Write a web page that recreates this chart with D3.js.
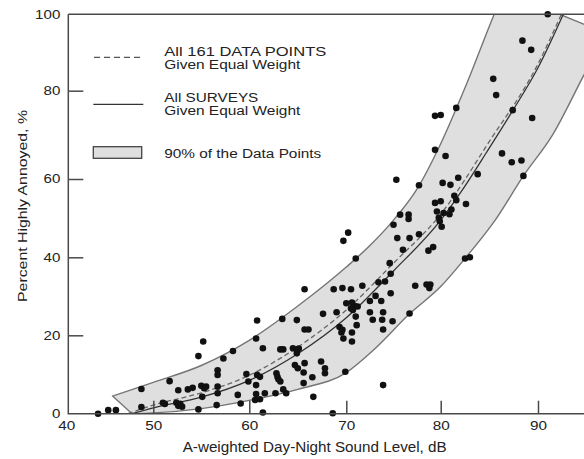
<!DOCTYPE html>
<html>
<head>
<meta charset="utf-8">
<script src="https://cdn.jsdelivr.net/npm/d3@7"></script>
<style>
  html, body { margin: 0; padding: 0; background: #ffffff; }
  text { font-family: "Liberation Sans", Arial, Helvetica, sans-serif; fill: #222; }
</style>
</head>
<body>
<svg id="chart" width="584" height="459"></svg>
<script>
// Tick values for both axes
const xTicks = [40, 50, 60, 70, 80, 90];
const yTicks = [0, 20, 40, 60, 80, 100];

// Survey data points: day-night level (dB) and percent highly annoyed
const ldn = [
  43.5, 44.7, 45.6, 48.6, 48.6, 51.0, 51.2, 51.7, 52.4, 52.6, 52.8, 53.0, 52.6, 53.6, 54.1, 54.7,
  55.2, 55.0, 55.3, 55.5, 55.1, 54.7, 56.7, 56.7, 56.7, 56.7, 56.6, 57.3, 58.3, 58.8, 59.1, 59.7,
  59.9, 60.8, 60.7, 60.7, 60.8, 61.1, 60.7, 61.1, 61.6, 60.6, 61.4, 61.4, 62.7, 63.2, 63.5, 63.4,
  63.5, 63.8, 64.5, 64.9, 65.1, 64.9, 64.9, 64.7, 65.0, 62.8, 62.9, 63.0, 63.2, 65.7, 65.6, 65.6,
  66.5, 67.4, 67.8, 67.8, 66.6, 69.9, 68.6, 65.7, 66.1, 65.7, 67.6, 69.0, 69.3, 69.6, 69.5, 69.7,
  68.7, 69.6, 69.7, 70.2, 70.5, 71.7, 71.0, 70.0, 70.6, 70.9, 71.2, 70.5, 70.7, 71.0, 71.1, 70.6,
  70.6, 72.5, 73.1, 73.7, 72.5, 72.8, 73.9, 73.8, 73.9, 73.4, 74.1, 74.6, 74.7, 74.7, 74.9, 73.9,
  75.0, 75.3, 75.4, 76.7, 77.7, 76.0, 75.7, 76.6, 76.6, 77.7, 76.7, 77.3, 78.5, 78.9, 78.8, 78.7,
  79.2, 79.4, 80.0, 79.6, 80.3, 79.8, 79.9, 80.1, 79.4, 80.5, 79.4, 80.0, 80.2, 81.0, 81.1, 80.9,
  81.4, 81.6, 82.6, 81.8, 83.8, 81.6, 82.5, 83.0, 85.4, 85.7, 86.3, 87.3, 88.3, 88.5, 87.4, 89.4,
  88.4, 89.3, 91.0
];
const pctHA = [
  0.0, 0.9, 0.9, 6.3, 1.7, 2.8, 2.5, 8.3, 2.8, 2.0, 2.5, 1.8, 6.0, 6.2, 6.6, 14.7,
  18.4, 7.1, 6.5, 6.9, 4.3, 1.1, 11.1, 9.9, 6.9, 5.2, 2.2, 14.1, 16.0, 4.8, 2.6, 10.1,
  8.2, 23.8, 19.2, 7.3, 9.9, 9.4, 5.0, 3.7, 5.2, 3.5, 16.7, 0.3, 5.2, 16.4, 16.4, 24.2,
  6.2, 5.2, 16.7, 16.3, 16.6, 15.4, 23.9, 12.4, 11.6, 10.3, 9.4, 8.8, 8.2, 12.9, 10.5, 7.8,
  9.3, 13.3, 11.6, 10.3, 4.3, 10.7, 0.1, 21.5, 21.5, 31.8, 25.5, 25.9, 22.1, 21.4, 20.7, 19.2,
  31.8, 32.1, 44.2, 46.3, 31.8, 32.7, 39.7, 28.2, 28.4, 27.5, 27.4, 26.9, 26.5, 24.8, 22.6, 20.7,
  18.4, 28.8, 30.1, 28.8, 25.9, 24.0, 25.9, 24.0, 21.5, 33.6, 33.8, 38.5, 35.8, 30.8, 23.6, 7.3,
  48.3, 59.8, 44.9, 44.9, 45.9, 41.9, 50.9, 50.9, 49.8, 58.4, 25.6, 32.7, 33.0, 33.0, 32.1, 41.7,
  42.6, 53.9, 54.3, 51.7, 51.3, 50.1, 49.2, 47.8, 66.6, 65.2, 74.3, 74.5, 59.0, 58.5, 52.2, 51.0,
  55.7, 54.6, 53.6, 60.3, 61.1, 76.1, 39.7, 40.0, 83.1, 79.0, 65.8, 63.8, 64.2, 60.7, 75.6, 73.8,
  93.1, 90.7, 100.0
];

// Fitted curves [dB, %]
const surveysCurve = [
  [47.5, 0], [50, 1.5], [55, 4.2], [60, 8.5], [65, 15.3], [70, 24.5], [75, 36.5],
  [80, 49.5], [82.3, 57.5], [84.7, 66], [87.4, 75.5], [90, 86], [92.6, 100]
];
const allPointsCurve = [
  [47.0, 0], [50, 2.2], [55, 5.3], [60, 9.8], [65, 17], [70, 26.5], [75, 38.5],
  [80, 51], [85, 68.5], [90, 87], [92.4, 100]
];

// 90% band boundaries [dB, %]
const bandUpper = [
  [45.2, 4.5], [50, 8], [55, 12.3], [60, 18.7], [65, 27.5], [70, 37.5], [72.5, 43],
  [75, 49.5], [77.5, 57.5], [80, 68], [82.7, 82], [85.5, 100], [86.5, 106]
];
const bandLower = [
  [47.5, 0], [50, 0.2], [55, 1.3], [60, 3.4], [65, 6.2], [70, 10.5], [73, 16.5],
  [76.7, 25.5], [80, 32.5], [82.5, 39.7], [85.6, 49.5], [88.5, 60.7], [91.5, 70],
  [94.7, 84], [97, 95]
];

// Legend entries
const legendLines = [
  ["All 161 DATA POINTS", "Given Equal Weight"],
  ["All SURVEYS", "Given Equal Weight"],
  ["90% of the Data Points"]
];

const svg = d3.select("#chart");
const W = 584, H = 459;

// Piecewise scales follow the tick spacing of the printed axes
const x = d3.scaleLinear().domain(xTicks).range([68.3, 153.3, 249.3, 346.3, 440.7, 538]);
const y = d3.scaleLinear().domain(yTicks).range([413.7, 335.3, 257.3, 179, 90.7, 14.3]);

const plotLeft = x(40), plotBottom = y(0), plotTop = y(100);

svg.append("defs").append("clipPath").attr("id", "plotClip")
  .append("rect").attr("x", plotLeft).attr("y", plotTop)
  .attr("width", W - plotLeft + 10).attr("height", plotBottom - plotTop);

const plot = svg.append("g").attr("clip-path", "url(#plotClip)");

const line = d3.line().x(d => x(d[0])).y(d => y(d[1])).curve(d3.curveMonotoneX);

// Band: upper boundary followed by the lower boundary in reverse
const bandPath = line(bandUpper) + "L" + line(bandLower.slice().reverse()).slice(1) + "Z";
plot.append("path")
  .attr("d", bandPath)
  .attr("fill", "#dfdfdf")
  .attr("stroke", "#757575")
  .attr("stroke-width", 1.4)
  .attr("stroke-linejoin", "round");

plot.append("path")
  .attr("d", line(surveysCurve))
  .attr("fill", "none")
  .attr("stroke", "#333")
  .attr("stroke-width", 1.3);

plot.append("path")
  .attr("d", line(allPointsCurve))
  .attr("fill", "none")
  .attr("stroke", "#666")
  .attr("stroke-width", 1.3)
  .attr("stroke-dasharray", "5,3");

// Data points
svg.append("g").selectAll("circle")
  .data(ldn.map((v, i) => [v, pctHA[i]]))
  .join("circle")
  .attr("cx", d => x(d[0]))
  .attr("cy", d => y(d[1]))
  .attr("r", 3.3)
  .attr("fill", "#111");

// Frame lines: left axis, bottom axis, top border
const frame = svg.append("g").attr("stroke", "#4a4a4a").attr("stroke-width", 1.5).attr("fill", "none");
frame.append("path").attr("d", `M${plotLeft},${plotTop}V${plotBottom}H${W}`);
frame.append("path").attr("d", `M${plotLeft},${plotTop}H${W}`);

// Bottom axis
const xAxis = svg.append("g")
  .attr("transform", `translate(0,${plotBottom})`)
  .call(d3.axisBottom(x).tickValues(xTicks).tickSize(-13).tickSizeOuter(0).tickPadding(7).tickFormat(d3.format("d")));
xAxis.select(".domain").remove();
xAxis.selectAll(".tick line").attr("stroke", "#4a4a4a").attr("stroke-width", 1.5)
  .filter(d => d === 40).remove();
xAxis.selectAll(".tick text")
  .attr("font-size", 12.5)
  .attr("fill", "#222")
  .attr("textLength", 17)
  .attr("lengthAdjust", "spacingAndGlyphs");
xAxis.selectAll(".tick").filter(d => d === 40).select("text").attr("x", -2);

// Left axis
const yAxis = svg.append("g")
  .attr("transform", `translate(${plotLeft},0)`)
  .call(d3.axisLeft(y).tickValues(yTicks).tickSize(-15).tickSizeOuter(0).tickPadding(8));
yAxis.select(".domain").remove();
yAxis.selectAll(".tick line").attr("stroke", "#4a4a4a").attr("stroke-width", 1.5)
  .filter(d => d === 0 || d === 100).remove();
yAxis.selectAll(".tick text")
  .attr("font-size", 12)
  .attr("fill", "#222")
  .attr("textLength", d => String(d).length * 8.4)
  .attr("lengthAdjust", "spacingAndGlyphs");

svg.selectAll(".tick text").style("font-family", '"Liberation Sans", Arial, sans-serif');

// Axis titles
svg.append("text")
  .attr("x", 182.7).attr("y", 452)
  .attr("font-size", 14)
  .attr("textLength", 264).attr("lengthAdjust", "spacingAndGlyphs")
  .text("A-weighted Day-Night Sound Level, dB");

svg.append("text")
  .attr("transform", "translate(27,206) rotate(-90)")
  .attr("text-anchor", "middle")
  .attr("font-size", 13.5)
  .attr("textLength", 192).attr("lengthAdjust", "spacingAndGlyphs")
  .text("Percent Highly Annoyed, %");

// Legend
const lg = svg.append("g");
lg.append("line").attr("x1", 94).attr("x2", 142).attr("y1", 57.3).attr("y2", 57.3)
  .attr("stroke", "#555").attr("stroke-width", 1.3).attr("stroke-dasharray", "6,4");
lg.append("line").attr("x1", 93.3).attr("x2", 143.3).attr("y1", 104.3).attr("y2", 104.3)
  .attr("stroke", "#333").attr("stroke-width", 1.3);
lg.append("rect").attr("x", 93.3).attr("y", 146.7).attr("width", 48.4).attr("height", 11.6)
  .attr("fill", "#dfdfdf").attr("stroke", "#444").attr("stroke-width", 1.3);

const legendRows = [
  { text: legendLines[0][0], y: 55.5, w: 162 },
  { text: legendLines[0][1], y: 69.3, w: 136 },
  { text: legendLines[1][0], y: 101.5, w: 94 },
  { text: legendLines[1][1], y: 115.3, w: 136 },
  { text: legendLines[2][0], y: 157.7, w: 157 }
];
lg.selectAll("text.legend").data(legendRows).join("text")
  .attr("class", "legend")
  .attr("x", 164.3).attr("y", d => d.y)
  .attr("font-size", 12.3)
  .attr("textLength", d => d.w).attr("lengthAdjust", "spacingAndGlyphs")
  .text(d => d.text);
</script>
</body>
</html>
